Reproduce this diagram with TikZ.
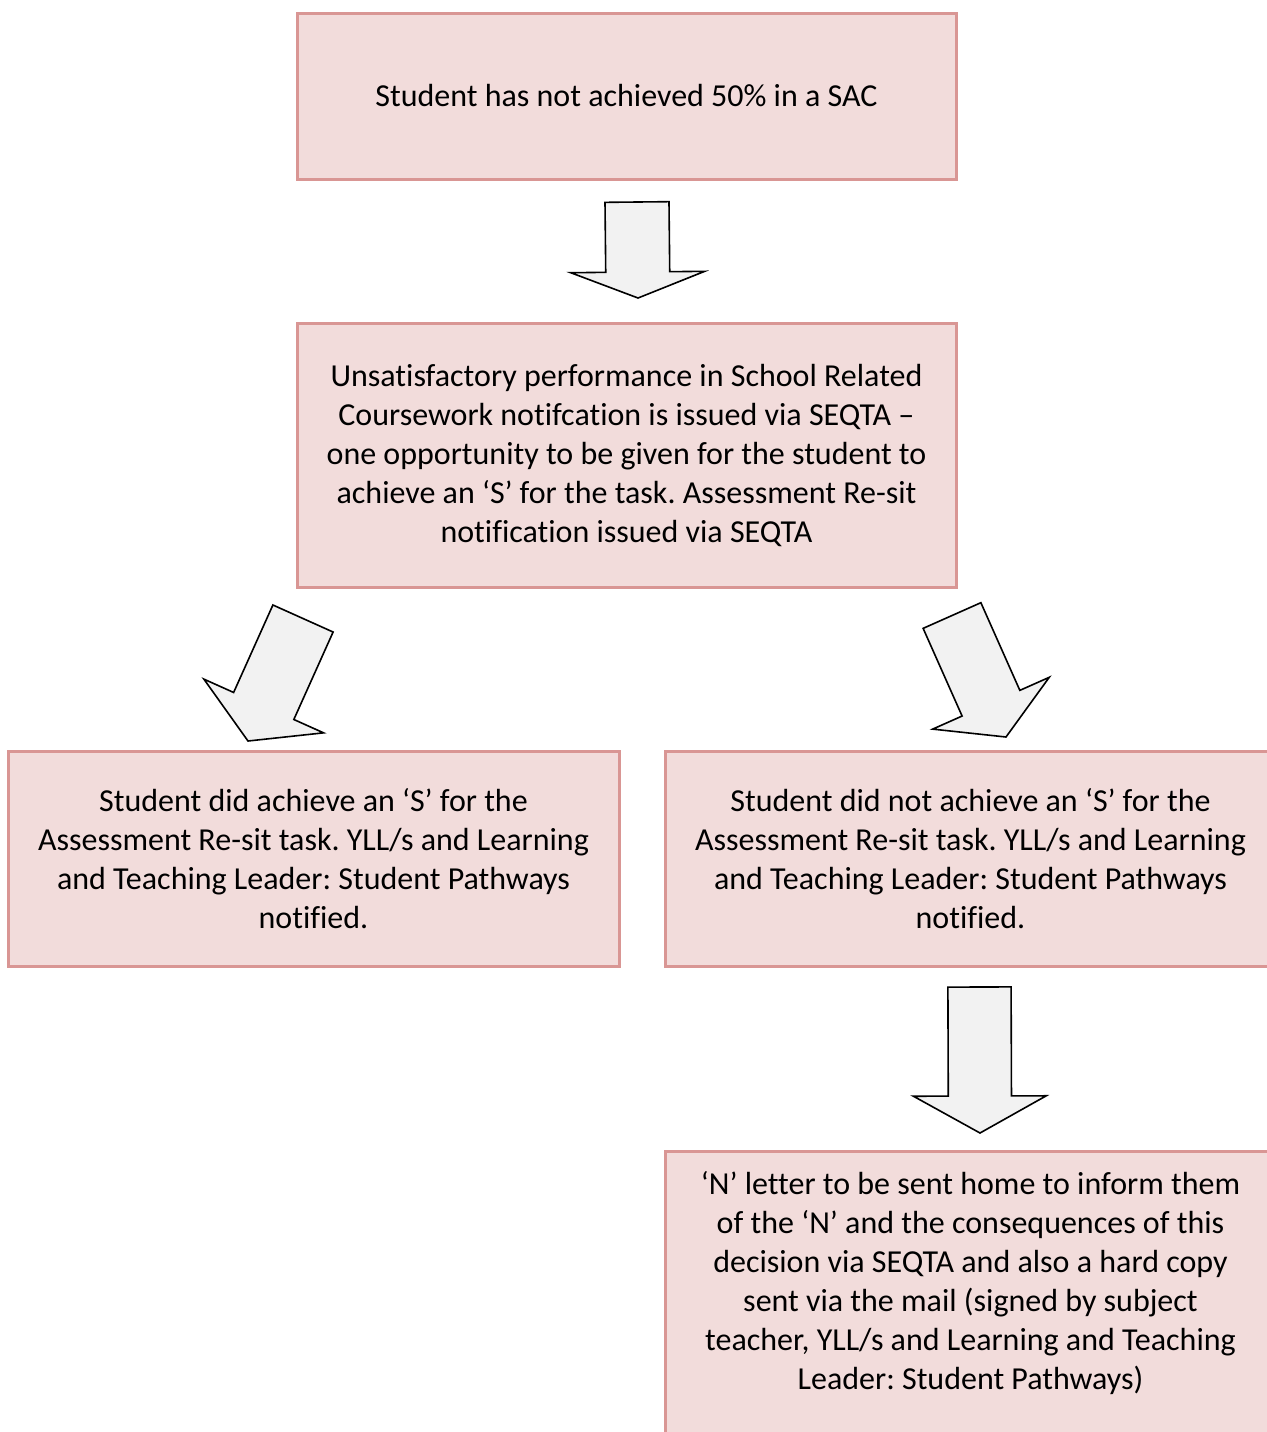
\documentclass[tikz,border=0pt]{standalone}
\usepackage{fontspec}
\setmainfont{Carlito}[Ligatures=NoCommon]
\frenchspacing
\usetikzlibrary{calc}
\definecolor{boxfill}{HTML}{F2DCDB}
\definecolor{boxline}{HTML}{D99694}
\definecolor{arrowfill}{HTML}{F2F2F2}
\tikzset{
    stage/.style={draw=boxline, fill=boxfill, line width=1.5pt, align=center,
        font=\fontsize{16}{19.5}\selectfont, inner sep=0pt},
    blockarrow/.style={draw=black, fill=arrowfill, line width=0.8pt, line join=miter},
}
% block arrow: tail, tip, shaft half width, head half width, head length
\newcommand\blockarrow[5]{%
    \coordinate (ba-base) at ($(#2)!#5!(#1)$);
    \draw[blockarrow] ($(#1)!#3!90:(#2)$) -- ($(ba-base)!#3!90:(#2)$)
        -- ($(ba-base)!#4!90:(#2)$) -- (#2) -- ($(ba-base)!#4!-90:(#2)$)
        -- ($(ba-base)!#3!-90:(#2)$) -- ($(#1)!#3!-90:(#2)$) -- cycle;
}
\begin{document}
\begin{tikzpicture}[x=0.5pt,y=-0.5pt]
    \useasboundingbox (0,0) rectangle (1267,1432);
    % boxes
    \node(sac)[stage, minimum width=329.5pt, minimum height=83pt] at (626.5,96)
        {Student has not achieved 50\% in a SAC};
    \node(resit)[stage, minimum width=329.5pt, minimum height=132pt] at (626.5,455)
        {Unsatisfactory performance in School Related\\
         Coursework notifcation is issued via SEQTA –\\
         one opportunity to be given for the student to\\
         achieve an ‘S’ for the task. Assessment Re-sit\\
         notification issued via SEQTA};
    \node(pass)[stage, minimum width=305.5pt, minimum height=107.5pt] at (313.5,858.5)
        {Student did achieve an ‘S’ for the\\
         Assessment Re-sit task. YLL/s and Learning\\
         and Teaching Leader: Student Pathways\\
         notified.};
    \node(fail)[stage, minimum width=305.5pt, minimum height=107.5pt] at (970.5,858.5)
        {Student did not achieve an ‘S’ for the\\
         Assessment Re-sit task. YLL/s and Learning\\
         and Teaching Leader: Student Pathways\\
         notified.};
    \node(letter)[stage, minimum width=305.5pt, anchor=north, inner ysep=10pt,
        text depth=200pt] at (970.5,1150)
        {‘N’ letter to be sent home to inform them\\
         of the ‘N’ and the consequences of this\\
         decision via SEQTA and also a hard copy\\
         sent via the mail (signed by subject\\
         teacher, YLL/s and Learning and Teaching\\
         Leader: Student Pathways)};
    % arrows
    \coordinate(sac-tail) at (637,202);
    \coordinate(sac-tip) at (638,298);
    \coordinate(pass-tail) at (303,618.5);
    \coordinate(pass-tip) at (248,741);
    \coordinate(fail-tail) at (952,615.5);
    \coordinate(fail-tip) at (1006,737);
    \coordinate(letter-tail) at (979.5,987);
    \coordinate(letter-tip) at (980,1133);
    \blockarrow{sac-tail}{sac-tip}{16pt}{33.5pt}{13pt}
    \blockarrow{pass-tail}{pass-tip}{16.5pt}{32.8pt}{19.2pt}
    \blockarrow{fail-tail}{fail-tip}{15.8pt}{31.9pt}{18.5pt}
    \blockarrow{letter-tail}{letter-tip}{15.8pt}{33.2pt}{18.5pt}
\end{tikzpicture}
\end{document}
